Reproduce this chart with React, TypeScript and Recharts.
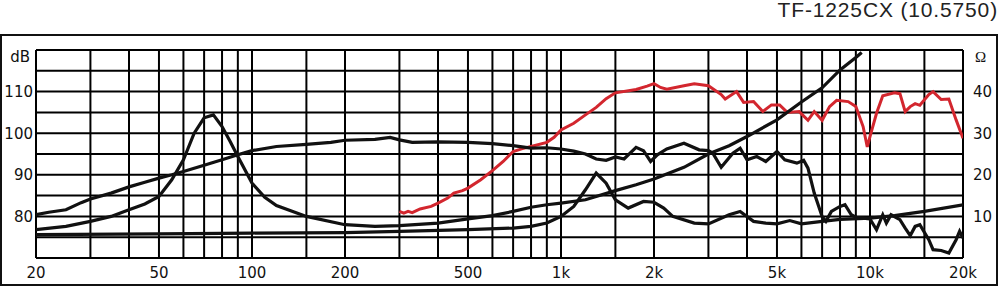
import { LineChart, Line, XAxis, YAxis, CartesianGrid } from 'recharts';

// x grid (log scale) and the labelled frequencies
const GRID_FREQS = [20, 30, 40, 50, 60, 70, 80, 90, 100, 150, 200, 300, 400, 500, 600, 700, 800, 900,
  1000, 1500, 2000, 3000, 4000, 5000, 6000, 7000, 8000, 9000, 10000, 15000, 20000];
const FREQ_LABELS: Record<number, string> = {
  20: '20', 50: '50', 100: '100', 200: '200', 500: '500',
  1000: '1k', 2000: '2k', 5000: '5k', 10000: '10k', 20000: '20k',
};
const DB_TICKS = [70, 75, 80, 85, 90, 95, 100, 105, 110, 115, 120];
const DB_LABELS: Record<number, string> = { 80: '80', 90: '90', 100: '100', 110: '110', 120: 'dB' };
const OHM_TICKS = [0, 5, 10, 15, 20, 25, 30, 35, 40, 45, 50];
const OHM_LABELS: Record<number, string> = { 10: '10', 20: '20', 30: '30', 40: '40', 50: 'Ω' };

// woofer SPL (dB)
const WOOFER_SPL_HZ = [20, 22, 25, 28, 30, 35, 40, 45, 50, 55, 60, 70, 80, 90, 100, 120, 150, 180, 200, 250, 280,
  300, 330, 400, 500, 600, 700, 800, 900, 1000, 1100, 1200, 1300, 1400, 1500, 1600, 1750, 1850, 1950, 2050,
  2200, 2500, 2800, 3000, 3100, 3300, 3600, 3800, 4000, 4300, 4600, 5000, 5300, 5800, 6100, 6300, 6600,
  7000, 7200, 7500, 8000, 8300, 8700, 9000, 9500, 10000, 10500, 11000, 11300, 11700, 12500, 13000, 13500,
  14000, 14500, 15500, 16000, 17000, 18000, 19000, 19500, 20000];
const WOOFER_SPL_DB = [80.4, 81.0, 81.6, 83.3, 84.2, 85.6, 87.1, 88.2, 89.2, 90.0, 90.8, 92.3, 93.6, 94.8, 95.8,
  96.8, 97.3, 97.8, 98.3, 98.5, 99.0, 98.4, 97.8, 97.9, 97.8, 97.5, 97.0, 96.4, 96.5, 96.2, 95.7, 95.0, 93.8,
  93.5, 94.3, 93.8, 96.6, 95.8, 93.2, 94.8, 96.2, 97.6, 96.0, 95.8, 95.2, 91.8, 95.2, 96.4, 93.6, 94.4, 93.2,
  95.6, 93.6, 92.8, 93.5, 91.6, 85.6, 80.0, 78.8, 81.2, 82.4, 82.8, 80.4, 79.8, 79.6, 79.4, 76.8, 80.4, 78.4,
  80.4, 79.2, 77.2, 75.4, 77.6, 78.0, 74.4, 72.0, 71.8, 71.2, 74.4, 76.4, 74.8];

// woofer impedance (ohm)
const WOOFER_Z_HZ = [20, 25, 30, 35, 40, 45, 50, 55, 60, 65, 70, 75, 80, 85, 90, 100, 110, 120, 150, 200, 250,
  300, 400, 500, 600, 700, 800, 900, 1000, 1200, 1500, 1750, 2000, 2500, 3000, 3500, 4000, 5000, 6000, 7000,
  8000, 9000, 9400];
const WOOFER_Z_OHM = [6.8, 7.6, 8.8, 10.0, 11.6, 13.0, 14.8, 18.8, 23.6, 30.0, 33.7, 34.4, 31.6, 28.0, 24.4,
  18.0, 14.6, 12.6, 10.0, 8.0, 7.6, 7.8, 8.4, 9.4, 10.2, 11.2, 12.2, 12.8, 13.2, 14.0, 16.2, 17.6, 19.0, 21.8,
  25.0, 27.0, 29.2, 33.2, 37.5, 40.9, 45.2, 48.2, 49.4];

// tweeter impedance (ohm)
const TWEETER_Z_HZ = [20, 50, 100, 200, 300, 500, 700, 800, 900, 1000, 1100, 1200, 1300, 1400, 1500, 1650,
  1850, 2000, 2150, 2300, 2700, 3000, 3500, 3800, 4200, 4600, 5000, 5500, 6000, 7000, 8000, 10000, 12000,
  15000, 20000];
const TWEETER_Z_OHM = [5.6, 5.8, 6.0, 6.1, 6.4, 6.8, 7.2, 7.6, 8.4, 10.0, 12.4, 16.4, 20.4, 18.0, 14.0, 12.0,
  13.6, 13.4, 12.0, 10.0, 8.4, 8.2, 10.4, 11.2, 8.8, 8.4, 8.2, 9.0, 8.2, 8.8, 9.3, 9.6, 10.2, 11.2, 12.8];

// tweeter SPL (dB), red
const TWEETER_SPL_HZ = [300, 310, 320, 330, 350, 380, 400, 430, 450, 480, 500, 550, 600, 650, 700, 750, 800,
  900, 950, 1000, 1100, 1200, 1300, 1400, 1500, 1750, 1900, 2000, 2100, 2200, 2500, 2700, 3000, 3300, 3400,
  3700, 3900, 4200, 4500, 4800, 5100, 5400, 5900, 6300, 6600, 7000, 7400, 7800, 8500, 9000, 9500, 9800,
  10000, 10500, 11000, 12000, 12500, 13000, 13500, 14000, 14500, 15500, 16000, 17000, 18000, 19000, 20000];
const TWEETER_SPL_DB = [81.2, 80.8, 81.2, 80.9, 81.8, 82.4, 83.2, 84.4, 85.6, 86.2, 86.8, 88.8, 91.0, 93.2,
  95.6, 96.3, 96.8, 97.8, 99.0, 100.8, 102.4, 104.4, 106.2, 108.3, 109.7, 110.5, 111.3, 111.9, 111.0, 110.6,
  111.4, 111.9, 111.4, 109.3, 108.2, 110.0, 107.4, 107.6, 105.2, 106.8, 106.8, 105.0, 105.2, 103.1, 105.2,
  103.1, 106.4, 107.9, 107.6, 106.4, 101.6, 96.7, 99.2, 104.8, 109.0, 109.7, 109.5, 105.2, 106.4, 107.1,
  106.7, 109.3, 110.0, 108.1, 108.2, 103.2, 98.8];

const pts = (hz: number[], vals: number[]) => hz.map((f, i) => ({ hz: f, v: vals[i] }));

const TICK_FONT = { fontFamily: 'DejaVu Sans, Verdana, sans-serif', fontSize: 15, fill: '#111' };

const XTick = ({ x, y, payload }: any) => {
  const label = FREQ_LABELS[payload.value];
  if (!label) return null;
  return <text x={x} y={y} dy="0.71em" textAnchor="middle" {...TICK_FONT}>{label}</text>;
};

const DbTick = ({ x, y, payload }: any) => {
  const label = DB_LABELS[payload.value];
  if (!label) return null;
  const top = payload.value === 120;
  return (
    <text x={top ? x - 3 : x} y={top ? y + 7 : y} dy="0.36em" textAnchor="end" {...TICK_FONT}>{label}</text>
  );
};

const OhmTick = ({ x, y, payload }: any) => {
  const label = OHM_LABELS[payload.value];
  if (!label) return null;
  const top = payload.value === 50;
  return (
    <text
      x={top ? x + 2 : x} y={top ? y + 7 : y} dy="0.36em" textAnchor="start" {...TICK_FONT}
      fontFamily={top ? 'Liberation Serif, serif' : TICK_FONT.fontFamily}
    >
      {label}
    </text>
  );
};

export default function App() {
  return (
    <div style={{ position: 'absolute', left: 0, top: 0, width: 1000, height: 286, background: '#fff' }}>
      <div style={{
        position: 'absolute', right: 2, top: 0, fontFamily: 'Liberation Sans, Arial, sans-serif',
        fontSize: 21, lineHeight: '20px', letterSpacing: 0.85, color: '#222', whiteSpace: 'nowrap',
      }}>
        TF-1225CX (10.5750)
      </div>
      <div style={{
        position: 'absolute', left: 0, top: 34, width: 998, height: 252,
        border: '2px solid #111', boxSizing: 'border-box',
      }} />
      <div style={{ position: 'absolute', left: 0, top: 0 }}>
        <LineChart width={1000} height={286} margin={{ top: 50, right: 0, bottom: 0, left: 0 }}>
          <CartesianGrid yAxisId="db" stroke="#000" strokeWidth={2} strokeOpacity={1} />
          <XAxis
            dataKey="hz" type="number" scale="log" domain={[20, 20000]} allowDataOverflow
            ticks={GRID_FREQS} interval={0} height={28} tickSize={0} tickMargin={9}
            axisLine={false} tickLine={false} tick={<XTick />}
          />
          <YAxis
            yAxisId="db" domain={[70, 120]} ticks={DB_TICKS} interval={0} width={36}
            tickSize={0} tickMargin={3} axisLine={false} tickLine={false} tick={<DbTick />}
          />
          <YAxis
            yAxisId="ohm" orientation="right" domain={[0, 50]} ticks={OHM_TICKS} interval={0} width={37}
            tickSize={0} tickMargin={10} axisLine={false} tickLine={false} tick={<OhmTick />}
          />
          <Line
            yAxisId="db" data={pts(TWEETER_SPL_HZ, TWEETER_SPL_DB)} dataKey="v" type="linear"
            stroke="#d3262e" strokeWidth={3} dot={false} isAnimationActive={false}
          />
          <Line
            yAxisId="db" data={pts(WOOFER_SPL_HZ, WOOFER_SPL_DB)} dataKey="v" type="linear"
            stroke="#111" strokeWidth={3.2} dot={false} isAnimationActive={false}
          />
          <Line
            yAxisId="ohm" data={pts(WOOFER_Z_HZ, WOOFER_Z_OHM)} dataKey="v" type="linear"
            stroke="#111" strokeWidth={3.2} dot={false} isAnimationActive={false}
          />
          <Line
            yAxisId="ohm" data={pts(TWEETER_Z_HZ, TWEETER_Z_OHM)} dataKey="v" type="linear"
            stroke="#111" strokeWidth={3.2} dot={false} isAnimationActive={false}
          />
        </LineChart>
      </div>
    </div>
  );
}
